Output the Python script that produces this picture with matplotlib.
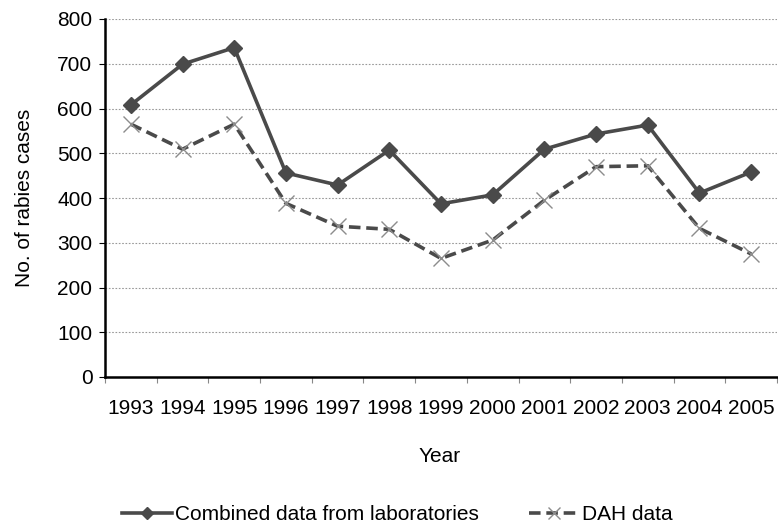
import numpy as np
import matplotlib.pyplot as plt
from matplotlib.lines import Line2D

plt.rcParams['font.family'] = ['Liberation Sans', 'DejaVu Sans']

# Дані з графіка
years = ['1993', '1994', '1995', '1996', '1997', '1998', '1999',
         '2000', '2001', '2002', '2003', '2004', '2005']
combined = [608, 699, 736, 456, 429, 507, 387, 407, 509, 543, 563, 411, 458]
dah = [565, 509, 565, 388, 337, 330, 265, 306, 395, 470, 472, 332, 275]
y_ticks = [0, 100, 200, 300, 400, 500, 600, 700, 800]

fs = 15
fig = plt.figure(figsize=(7.78, 5.26), dpi=100)
ax = fig.add_axes([105 / 778, 149 / 526, 672 / 778, 358 / 526])

x = np.arange(len(years))
line_col = '#4a4a4a'
dash = (0, (3.2, 1.6))
ax.plot(x, combined, color=line_col, linewidth=2.6, marker='D', markersize=8.5,
        markerfacecolor=line_col, markeredgecolor=line_col, zorder=3)
ax.plot(x, dah, color=line_col, linewidth=2.6, linestyle=dash, zorder=3)
ax.plot(x, dah, linestyle='none', marker='x', markersize=11, markeredgewidth=1.0,
        color='#8c8c8c', zorder=4)

ax.set_xlim(-0.5, len(years) - 0.5)
ax.set_ylim(0, 800)
ax.set_yticks(y_ticks)
ax.set_xticks(x)
ax.set_xticklabels(years)
ax.set_xticks(np.arange(-0.5, len(years), 1), minor=True)
ax.tick_params(axis='x', which='major', length=0, pad=16, labelsize=fs)
ax.tick_params(axis='x', which='minor', length=4, width=0.8, color='#888888')
ax.tick_params(axis='y', length=4, width=0.8, labelsize=fs, pad=5)

ax.grid(axis='y', color='#999999', linestyle=(0, (1.5, 1.5)), linewidth=0.8)
ax.set_axisbelow(True)
for s in ['top', 'right']:
    ax.spines[s].set_visible(False)
ax.spines['left'].set_linewidth(1.8)
ax.spines['bottom'].set_linewidth(1.8)

ax.set_ylabel('No. of rabies cases', fontsize=fs)
ax.yaxis.set_label_coords(-0.105, 0.5)
ax.set_xlabel('Year', fontsize=fs)
ax.xaxis.set_label_coords(335 / 672, -0.195)

h1 = Line2D([], [], color=line_col, linewidth=2.6, marker='D', markersize=6)
h2 = Line2D([], [], color=line_col, linewidth=2.6, linestyle=dash,
            marker='x', markersize=9, markeredgecolor='#8c8c8c', markeredgewidth=1.0)
fig.legend([h1, h2], ['Combined data from laboratories', 'DAH data'],
           loc='center', bbox_to_anchor=(397 / 778, 1 - 515 / 526), ncol=2,
           frameon=False, fontsize=fs, handlelength=2.4, columnspacing=2.4,
           handletextpad=0.15)

plt.savefig('out.png', dpi=100)
